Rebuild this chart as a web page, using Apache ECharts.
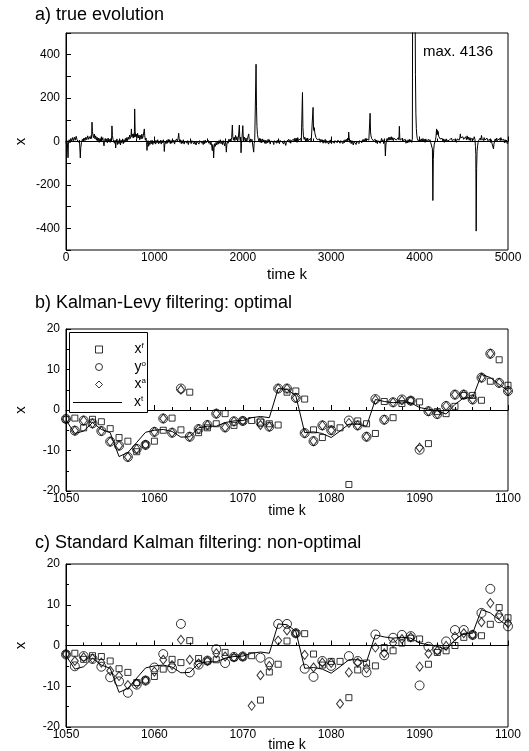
<!DOCTYPE html>
<html><head><meta charset="utf-8">
<script src="https://cdn.jsdelivr.net/npm/echarts@6/dist/echarts.min.js"></script>
<style>html,body{margin:0;padding:0;background:#fff}#c{width:529px;height:751px}</style>
</head><body><div id="c"></div>
<script>
// ---- panel a: true evolution (time k, x) ----
const evolution = [
[0,-8],[8,6],[15,-4],[20,4],[23,-75],[27,-12],[35,8],[45,-6],[55,14],[65,2],[75,18],[85,4],[95,20],[105,6],[115,24],[125,8],[135,16],[145,-4],[152,6],[158,-2],[162,-76],[167,-28],[175,-6],[185,10],[195,-2],[205,16],[215,4],[225,20],[235,8],[245,26],[255,10],[265,22],[275,12],[285,28],[290,14],[294,89],[299,45],[305,30],[312,18],[320,34],[328,12],[336,26],[344,6],[352,20],[360,0],[368,16],[376,-4],[384,14],[392,2],[400,22],[408,6],[416,18],[424,-6],[430,-20],[436,4],[444,14],[452,-2],[460,12],[468,-6],[476,16],[484,0],[492,10],[500,-4],[508,14],[515,2],[520,72],[525,28],[532,10],[540,18],[548,-8],[556,6],[562,-30],[568,-2],[576,12],[584,-14],[592,4],[600,-10],[608,10],[616,-16],[624,6],[632,-6],[640,12],[648,-10],[656,8],[664,-4],[672,14],[680,-2],[688,18],[696,4],[704,20],[712,10],[720,30],[728,14],[735,24],[740,58],[745,22],[752,34],[760,16],[768,36],[773,20],[777,150],[782,48],[788,22],[795,34],[802,14],[810,38],[818,16],[826,30],[834,8],[842,28],[850,12],[858,34],[866,14],[874,26],[882,18],[886,58],[891,26],[898,6],[905,16],[912,-6],[916,-41],[921,-14],[928,4],[935,-22],[942,-4],[950,-14],[958,4],[966,-10],[974,6],[982,-14],[990,2],[998,-8],
[1006,6],[1014,-12],[1022,4],[1030,-6],[1038,8],[1046,-10],[1054,2],[1062,-8],[1070,6],[1078,-12],[1086,4],[1094,-6],[1102,8],[1108,-8],[1112,-46],[1117,-16],[1124,2],[1132,-10],[1140,6],[1148,-8],[1156,10],[1164,-4],[1172,8],[1180,-10],[1188,4],[1196,-8],[1204,10],[1212,-4],[1220,6],[1228,-12],[1236,2],[1244,-6],[1252,12],[1260,0],[1268,14],[1275,38],[1280,12],[1288,-4],[1296,8],[1304,-10],[1312,4],[1320,-8],[1328,8],[1336,-12],[1344,2],[1352,-6],[1360,10],[1368,-8],[1376,4],[1384,-14],[1392,2],[1400,-6],[1408,8],[1416,-10],[1424,4],[1432,-4],[1440,10],[1448,-12],[1456,0],[1464,6],[1472,-16],[1480,2],[1488,-6],[1496,8],[1504,-12],[1512,4],[1520,-4],[1528,10],[1536,-8],[1544,2],[1552,-14],[1560,4],[1568,-10],[1576,6],[1584,-6],[1592,2],[1600,-12],[1608,6],[1616,-8],[1624,2],[1632,-14],[1640,-2],[1648,-20],[1655,-42],[1660,-14],[1666,-30],[1670,-76],[1675,-32],[1682,-10],[1690,-22],[1698,-4],[1706,-16],[1714,2],[1722,-12],[1730,4],[1738,-8],[1746,8],[1754,-10],[1762,2],[1770,-14],[1778,4],[1786,-8],[1794,-20],[1802,-2],[1808,-12],[1814,-49],[1819,-16],[1826,2],[1834,-8],[1842,10],[1850,-2],[1858,12],[1866,2],[1874,18],[1882,76],
[1887,22],[1894,6],[1902,20],[1910,4],[1918,28],[1926,8],[1934,22],[1942,2],[1950,18],[1956,10],[1961,76],[1966,14],[1972,4],[1976,20],[1980,-52],[1985,-8],[1990,10],[1995,18],[2000,73],[2005,24],[2012,8],[2020,20],[2028,2],[2036,16],[2044,-2],[2052,12],[2060,6],[2067,35],[2072,10],[2080,-4],[2088,12],[2096,-2],[2104,10],[2112,2],[2118,8],[2123,-49],[2128,-10],[2135,4],[2142,8],[2147,6],[2150,356],[2155,160],[2160,70],[2166,32],[2174,14],[2182,2],[2190,14],[2198,-4],[2206,10],[2214,-6],[2222,12],[2230,-2],[2238,8],[2246,-8],[2254,6],
[2262,-10],[2270,4],[2278,-6],[2286,10],[2294,-4],[2302,8],[2310,-12],[2318,2],[2326,-6],[2334,8],[2342,-2],[2350,-14],[2358,4],[2366,-4],[2374,10],[2382,-8],[2390,6],[2398,-6],[2406,8],[2414,-10],[2422,4],[2430,-4],[2438,10],[2446,-2],[2454,6],[2462,-12],[2470,4],[2478,-4],[2486,-18],[2494,0],[2502,8],[2510,-6],[2518,10],[2526,-4],[2534,8],[2542,-8],[2550,4],[2558,12],[2566,-2],[2574,10],[2582,0],[2590,16],[2598,2],[2606,14],[2614,-4],[2622,18],[2630,4],[2638,12],[2646,-2],[2654,14],[2662,2],[2668,10],[2675,226],[2680,64],[2686,26],[2694,10],[2702,20],[2710,2],[2718,14],[2726,-2],[2734,16],[2742,4],[2750,12],[2758,-4],[2766,14],[2774,2],[2782,10],[2790,6],[2795,157],[2800,62],[2805,50],[2809,64],[2814,42],[2820,30],[2828,18],[2836,26],[2844,8],[2852,16],[2860,2],[2868,12],[2876,-4],[2884,10],[2892,-2],[2900,8],[2908,-8],[2916,6],[2924,-4],[2932,10],[2940,-8],[2948,4],[2956,12],[2964,-2],[2972,-12],[2980,4],[2988,-6],[2996,8],
[3004,-10],[3012,2],[3020,-6],[3028,8],[3036,-8],[3044,4],[3052,-4],[3060,10],[3068,-6],[3076,6],[3084,-2],[3092,10],[3100,-8],[3108,4],[3116,-4],[3124,8],[3132,-10],[3140,4],[3148,-6],[3156,8],[3164,-2],[3172,10],[3180,0],[3188,16],[3194,6],[3198,43],[3203,12],[3210,-4],[3218,6],[3226,-10],[3234,4],[3242,-6],[3250,-16],[3258,0],[3266,-8],[3274,4],[3282,-14],[3290,2],[3298,-6],[3306,6],[3314,-10],[3322,4],[3330,-4],[3338,8],[3346,-6],[3354,8],[3362,-2],[3370,10],[3378,0],[3386,14],[3394,2],[3402,12],[3410,4],[3418,16],[3426,6],[3434,14],[3440,130],[3445,44],[3450,26],[3458,14],[3466,22],[3474,4],[3482,12],[3490,-4],[3498,10],[3506,-6],[3514,6],[3522,-10],[3530,4],[3538,-4],[3546,8],[3554,-8],[3562,2],[3570,14],[3578,-2],[3586,8],[3594,-10],[3602,2],[3608,-8],[3613,-67],[3618,-20],[3624,2],[3632,14],[3640,4],[3648,18],[3656,6],[3664,20],[3672,8],[3680,22],[3688,6],[3696,18],[3704,4],[3712,16],[3720,8],[3728,20],[3736,6],[3744,14],[3752,4],[3760,18],[3766,8],[3771,70],[3776,18],[3782,6],[3790,14],[3798,2],[3806,16],[3814,4],[3822,12],[3830,-4],[3838,10],[3846,-8],[3854,4],[3862,-6],[3870,8],[3878,-4],[3886,10],[3894,-2],[3902,8],[3910,-4],[3918,10],[3926,2],[3932,8],[3936,4],[3938,4136],[3943,1750],[3948,740],[3953,310],[3958,130],[3963,60],[3968,30],[3974,14],[3982,4],[3990,12],
[3998,0],[4006,10],[4014,-2],[4022,12],[4030,2],[4038,14],[4046,0],[4054,10],[4062,-4],[4070,12],[4078,2],[4086,8],[4094,-6],[4102,10],[4110,-2],[4118,8],[4126,-6],[4134,-2],[4140,-14],[4145,-34],[4150,-272],[4155,-84],[4160,-36],[4166,-12],[4174,-4],[4180,8],[4186,24],[4192,58],[4196,30],[4200,52],[4205,36],[4210,46],[4216,24],[4224,30],[4232,12],[4240,20],[4248,4],[4256,14],[4264,0],[4272,12],[4280,-4],[4288,10],[4296,-2],[4304,12],[4312,2],[4320,8],[4328,-6],[4336,6],[4344,-2],[4352,10],[4360,16],[4368,4],[4376,12],[4384,-2],[4392,10],[4400,2],[4408,8],[4416,-4],[4424,12],[4432,4],[4440,16],[4448,6],[4456,20],[4461,35],[4466,16],[4474,24],[4482,8],[4490,22],[4498,10],[4506,18],[4514,6],[4522,22],[4530,8],[4538,26],[4546,10],[4554,20],[4562,6],[4570,18],[4578,4],[4586,14],[4594,6],[4602,18],[4610,8],[4618,22],[4626,10],[4632,-24],[4636,-60],[4640,-413],[4645,-125],[4650,-46],[4656,-20],[4662,-4],[4670,6],[4678,-2],[4686,16],[4694,6],[4700,28],[4706,14],[4714,20],[4722,4],[4730,18],[4738,6],[4746,14],[4754,2],[4762,16],[4770,4],[4778,12],[4786,0],[4794,10],[4802,-4],[4810,8],[4818,-8],[4826,-2],[4832,-16],[4836,-34],[4841,-12],[4848,2],[4856,12],[4864,2],[4872,16],[4880,4],[4888,12],[4896,0],[4904,14],[4912,4],[4920,18],[4928,6],[4936,14],[4944,2],[4952,10],[4960,-6],[4968,8],[4976,-4],[4984,6],[4992,-10],[5000,-4]
];

// ---- panels b, c: time steps 1050..1100 ----
const steps = [1050,1051,1052,1053,1054,1055,1056,1057,1058,1059,1060,1061,1062,1063,1064,1065,1066,1067,1068,1069,1070,1071,1072,1073,1074,1075,1076,1077,1078,1079,1080,1081,1082,1083,1084,1085,1086,1087,1088,1089,1090,1091,1092,1093,1094,1095,1096,1097,1098,1099,1100];
const truth = [-2.5,-5.8,-5.2,-3.1,-4.8,-5.6,-11.5,-10.5,-8.0,-5.5,-5.0,-4.8,-5.3,-6.7,-6.6,-4.4,-4.0,-4.0,-3.1,-2.7,-2.6,-1.9,-1.6,-1.9,5.3,5.1,3.5,-5.6,-5.4,-5.8,-6.8,-5.2,-3.5,-3.5,-4.0,2.6,2.1,1.8,2.0,1.8,0.6,0.2,-0.2,-1.0,1.4,3.0,3.0,8.8,8.0,6.3,4.7];
const observed = [-2.2,-5.1,-2.6,-3.3,-5.2,-7.8,-8.8,-11.6,-9.6,-8.6,-5.4,-2.1,-5.6,5.3,-6.6,-4.7,-3.7,-0.9,-4.3,-2.8,-2.7,null,-3.0,-4.1,5.3,5.3,3.0,-5.7,-7.7,-3.8,-5.0,null,-2.6,-3.8,-6.6,2.7,-2.4,1.9,2.6,2.3,-9.8,-0.3,-1.0,1.0,3.8,3.8,2.6,8.0,13.9,6.7,4.7];
const forecastKL = [-2.3,-2.0,-4.4,-2.3,-2.9,-4.6,-6.8,-7.7,-10.3,-8.6,-7.7,-5.0,-2.0,-4.9,4.4,-5.6,-4.4,-3.4,-0.9,-3.8,-2.7,-2.6,-3.0,-3.4,-3.7,4.4,4.7,2.7,-4.9,-6.8,-3.5,-4.4,-18.4,-2.7,-3.4,-5.8,2.1,-1.9,1.6,2.3,2.0,-8.3,-0.4,-0.9,0.9,3.6,3.6,2.4,7.1,12.4,6.1];
const analysisKL = [-2.2,-5.1,-2.6,-3.3,-5.2,-7.8,-8.8,-11.6,-9.6,-8.6,-5.4,-2.1,-5.6,5.0,-6.6,-4.7,-3.7,-0.9,-4.3,-2.8,-2.7,null,-3.7,-4.1,5.3,5.3,3.0,-5.7,-7.7,-3.8,-5.0,null,-3.2,-3.8,-6.6,2.5,-2.4,1.9,2.4,2.3,-9.3,-0.3,-1.0,1.0,3.8,3.8,2.6,8.0,13.9,6.7,4.7];
const forecastSK = [-2.1,-1.9,-3.4,-2.5,-2.7,-3.8,-5.7,-6.6,-9.1,-8.5,-7.6,-5.8,-3.4,-4.2,1.2,-3.2,-3.8,-3.5,-1.7,-3.0,-2.8,-2.5,-13.4,-6.5,-4.6,1.1,3.0,2.9,-2.1,-4.8,-3.9,-3.9,-12.8,-6.0,-4.3,-5.0,-0.5,-1.3,0.6,1.8,1.6,-4.6,-1.7,-1.3,0.0,2.0,2.6,2.4,5.2,9.3,6.8];
const analysisSK = [-2.1,-3.8,-2.9,-3.2,-4.2,-6.2,-7.5,-9.7,-9.3,-8.6,-6.4,-3.5,-4.8,1.4,-3.5,-4.4,-3.8,-1.9,-2.7,-2.9,-2.7,-14.8,-7.3,-5.0,1.2,3.7,3.0,-2.3,-5.4,-4.2,-4.3,-14.3,-6.6,-4.2,-5.6,-0.5,-1.9,0.6,1.6,2.0,-5.2,-2.0,-1.3,-0.1,2.2,3.0,2.6,5.7,10.4,7.6,5.5];

// legend labels: [base, superscript]
const markerLegend = ['xf','yo','xa'];
const lineLegend = ['xt'];
const legendLabels = {xf:['x','f'], yo:['y','o'], xa:['x','a'], xt:['x','t']};
const titles = ['a) true evolution','b) Kalman-Levy filtering: optimal','c) Standard Kalman filtering: non-optimal'];
const maxNote = 'max. 4136';

const FONT = "'Liberation Sans', Arial, Helvetica, sans-serif";
const pairs = ys => steps.map((k,i) => [k, ys[i]]).filter(d => d[1] !== null && d[1] !== undefined);

const hollow = {color:'rgba(0,0,0,0)', borderColor:'#000', borderWidth:1};
function xAxisCommon(gi, min, max, interval, split, nameGap, nameSize){
  return {type:'value', gridIndex:gi, min, max, interval,
    name:'time k', nameLocation:'middle', nameGap, nameMoveOverlap:false,
    nameTextStyle:{color:'#000', fontSize:nameSize, fontFamily:FONT},
    axisLine:{show:true, lineStyle:{color:'#000', width:1}},
    axisTick:{show:true, inside:true, length:5, lineStyle:{color:'#000', width:1}},
    minorTick:{show:true, splitNumber:split, length:3, lineStyle:{color:'#000', width:1}},
    splitLine:{show:false}, minorSplitLine:{show:false},
    axisLabel:{color:'#000', fontSize:12, fontFamily:FONT, margin:2, formatter:v => String(v)}};
}
function yAxisCommon(gi, min, max, interval, split, fmt){
  return {type:'value', gridIndex:gi, min, max, interval,
    name:'x', nameLocation:'middle', nameGap:38, nameRotate:90, nameMoveOverlap:false,
    nameTextStyle:{color:'#000', fontSize:15, fontFamily:FONT},
    axisLine:{show:true, onZero:false, lineStyle:{color:'#000', width:1}},
    axisTick:{show:true, inside:true, length:5, lineStyle:{color:'#000', width:1}},
    minorTick:{show:split>1, splitNumber:split, length:3, lineStyle:{color:'#000', width:1}},
    splitLine:{show:false}, minorSplitLine:{show:false},
    axisLabel:{color:'#000', fontSize:12, fontFamily:FONT, margin:6, formatter:fmt}};
}
function filterSeries(gi, suffix, fc, an){
  return [
    {name:'xt'+suffix, type:'line', xAxisIndex:gi, yAxisIndex:gi, data:pairs(truth), symbol:'none', showSymbol:false,
     lineStyle:{color:'#000', width:1}, itemStyle:{color:'#000'}, z:2, silent:true},
    {name:'xf'+suffix, type:'scatter', xAxisIndex:gi, yAxisIndex:gi, data:pairs(fc), symbol:'rect', symbolSize:6, itemStyle:hollow, z:3, silent:true},
    {name:'yo'+suffix, type:'scatter', xAxisIndex:gi, yAxisIndex:gi, data:pairs(observed), symbol:'circle', symbolSize:9, itemStyle:hollow, z:3, silent:true},
    {name:'xa'+suffix, type:'scatter', xAxisIndex:gi, yAxisIndex:gi, data:pairs(an), symbol:'diamond', symbolSize:[7,9], itemStyle:hollow, z:3, silent:true}
  ];
}
const legendFmt = n => '{s|' + legendLabels[n][0] + '}{u|' + legendLabels[n][1] + '}';
function legendText(padLeft){
  return {color:'#000', fontFamily:FONT, fontSize:14,
    rich:{s:{fontSize:14, lineHeight:15, fontFamily:FONT, color:'#000', padding:[0,0,0,padLeft]},
          u:{fontSize:8, lineHeight:8, fontFamily:FONT, color:'#000', verticalAlign:'top'}}};
}
const titleTops = [6, 294, 534];
const option = {
  animation:false,
  backgroundColor:'#fff',
  textStyle:{fontFamily:FONT},
  title: titles.map((t,i) => ({text:t, left:35, top:titleTops[i], padding:0,
    textStyle:{fontSize:18, fontWeight:'normal', color:'#000', fontFamily:FONT}})),
  grid:[
    {left:66, top:33, width:442, height:217, show:true, borderColor:'#000', borderWidth:1, outerBoundsMode:'none'},
    {left:66, top:329, width:442, height:162, show:true, borderColor:'#000', borderWidth:1, outerBoundsMode:'none'},
    {left:66, top:564, width:442, height:163, show:true, borderColor:'#000', borderWidth:1, outerBoundsMode:'none'}
  ],
  xAxis:[
    xAxisCommon(0, 0, 5000, 1000, 5, 17, 15),
    xAxisCommon(1, 1050, 1100, 10, 5, 13, 14),
    xAxisCommon(2, 1050, 1100, 10, 5, 11, 14)
  ],
  yAxis:[
    yAxisCommon(0, -500, 500, 100, 1, v => (v % 200 === 0 ? String(v) : '')),
    yAxisCommon(1, -20, 20, 10, 2, v => String(v)),
    yAxisCommon(2, -20, 20, 10, 2, v => String(v))
  ],
  legend:[
    {data:markerLegend.map(n => ({name:n})), orient:'vertical', left:95, top:342, itemWidth:7, itemHeight:7, itemGap:3,
     padding:0, selectedMode:false, z:10, formatter:legendFmt, textStyle:legendText(27),
     itemStyle:{color:'rgba(0,0,0,0)', borderColor:'#000', borderWidth:1}},
    {data:lineLegend.map(n => ({name:n, icon:'rect'})), orient:'vertical', left:73, top:395, itemWidth:49, itemHeight:1, itemGap:3,
     padding:0, selectedMode:false, z:10, formatter:legendFmt, textStyle:legendText(7),
     itemStyle:{color:'#000', borderWidth:0}}
  ],
  graphic:[
    {type:'rect', left:69, top:332, z:9, shape:{width:78, height:80}, style:{fill:'#fff', stroke:'#000', lineWidth:1}},
    {type:'text', left:423, top:44, z:9, style:{text:maxNote, fontSize:15, fontFamily:FONT, fill:'#000'}}
  ],
  series:[
    {name:'evolution', type:'line', xAxisIndex:0, yAxisIndex:0, data:evolution, symbol:'none', showSymbol:false,
     lineStyle:{color:'#000', width:1}, clip:true, silent:true},
    ...filterSeries(1, '', forecastKL, analysisKL),
    ...filterSeries(2, '_c', forecastSK, analysisSK)
  ]
};
const chart = echarts.init(document.getElementById('c'), null, {renderer:'canvas'});
chart.setOption(option);
</script></body></html>
